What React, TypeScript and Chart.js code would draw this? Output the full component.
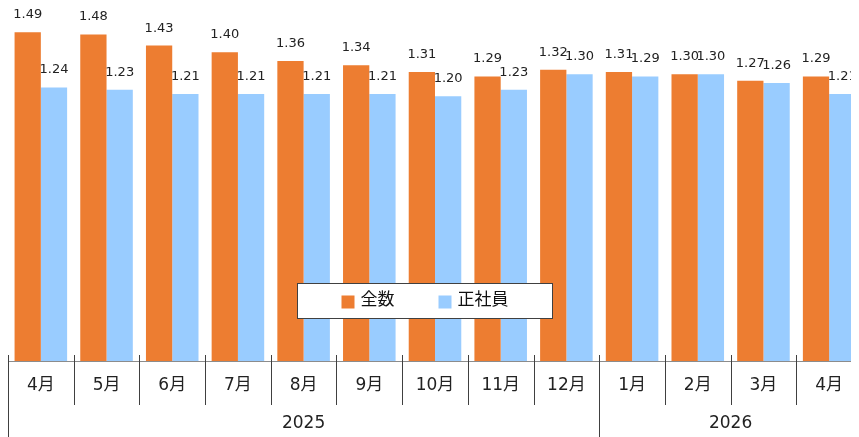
import React, { useEffect, useRef } from "react";
import { Chart, registerables } from "chart.js";

Chart.register(...registerables);

const months = ["4月", "5月", "6月", "7月", "8月", "9月", "10月", "11月", "12月", "1月", "2月", "3月", "4月"];
const yearLabels = ["2025", "2026"];
const yearSpans = [9, 4];
const seriesNames = ["全数", "正社員"];
const allValues = [1.49, 1.48, 1.43, 1.40, 1.36, 1.34, 1.31, 1.29, 1.32, 1.31, 1.30, 1.27, 1.29];
const regularValues = [1.24, 1.23, 1.21, 1.21, 1.21, 1.21, 1.20, 1.23, 1.30, 1.29, 1.30, 1.26, 1.21];
const colors = ["#ED7D31", "#99CCFF"];

const FONT = '"DejaVu Sans", "Noto Sans CJK JP", sans-serif';

const overlayPlugin = {
  id: "overlay",
  afterDatasetsDraw(chart: any) {
    const ctx = chart.ctx as CanvasRenderingContext2D;
    ctx.save();
    ctx.font = `13px ${FONT}`;
    ctx.fillStyle = "#222";
    ctx.textAlign = "center";
    ctx.textBaseline = "alphabetic";
    chart.data.datasets.forEach((ds: any, di: number) => {
      const meta = chart.getDatasetMeta(di);
      meta.data.forEach((bar: any, i: number) => {
        ctx.fillText(Number(ds.data[i]).toFixed(2), bar.x, bar.y - 14);
      });
    });
    ctx.restore();
  },
  afterDraw(chart: any) {
    const ctx = chart.ctx as CanvasRenderingContext2D;
    const x = chart.scales.x;
    const area = chart.chartArea;
    const n = months.length;
    const cw = (x.getPixelForValue(n - 1) - x.getPixelForValue(0)) / (n - 1);
    const edge = (i: number) => x.getPixelForValue(0) - cw / 2 + i * cw;
    const yearBounds = new Set<number>();
    let acc = 0;
    yearBounds.add(0);
    yearSpans.forEach((s) => {
      acc += s;
      yearBounds.add(acc);
    });
    ctx.save();
    ctx.strokeStyle = "#8c8c8c";
    ctx.lineWidth = 1;
    ctx.beginPath();
    ctx.moveTo(area.left, Math.round(area.bottom) + 0.5);
    ctx.lineTo(area.right, Math.round(area.bottom) + 0.5);
    ctx.stroke();
    ctx.strokeStyle = "#404040";
    for (let i = 0; i <= n; i++) {
      const px = Math.round(edge(i)) + 0.5;
      const bottom = yearBounds.has(i) ? chart.height : area.bottom + 44;
      ctx.beginPath();
      ctx.moveTo(px, area.bottom - 6);
      ctx.lineTo(px, bottom);
      ctx.stroke();
    }
    ctx.font = `17px ${FONT}`;
    ctx.fillStyle = "#222";
    ctx.textAlign = "center";
    ctx.textBaseline = "middle";
    let start = 0;
    yearLabels.forEach((yl, k) => {
      const end = start + yearSpans[k];
      ctx.fillText(yl, (edge(start) + edge(end)) / 2, area.bottom + 63);
      start = end;
    });
    const boxL = 289, boxT = 275, boxW = 256, boxH = 36;
    ctx.fillStyle = "#fff";
    ctx.fillRect(boxL, boxT, boxW, boxH);
    ctx.strokeStyle = "#404040";
    ctx.strokeRect(boxL + 0.5, boxT + 0.5, boxW - 1, boxH - 1);
    ctx.font = `17px ${FONT}`;
    ctx.textAlign = "left";
    ctx.textBaseline = "middle";
    const sq = 13, gap1 = 6, gap2 = 44;
    const widths = seriesNames.map((s) => ctx.measureText(s).width);
    const total = widths.reduce((a, w) => a + sq + gap1 + w, 0) + gap2 * (seriesNames.length - 1);
    let cx = boxL + (boxW - total) / 2;
    const cy = boxT + boxH / 2;
    seriesNames.forEach((s, k) => {
      ctx.fillStyle = colors[k];
      ctx.fillRect(cx, cy - sq / 2 + 1, sq, sq);
      cx += sq + gap1;
      ctx.fillStyle = "#111";
      ctx.fillText(s, cx, cy);
      cx += widths[k] + gap2;
    });
    ctx.restore();
  },
};

export default function App() {
  const ref = useRef<HTMLCanvasElement | null>(null);
  useEffect(() => {
    if (!ref.current) return;
    const chart = new Chart(ref.current, {
      type: "bar",
      data: {
        labels: months,
        datasets: [
          { label: seriesNames[0], data: allValues, backgroundColor: colors[0], categoryPercentage: 0.8, barPercentage: 1.0 },
          { label: seriesNames[1], data: regularValues, backgroundColor: colors[1], categoryPercentage: 0.8, barPercentage: 1.0 },
        ],
      },
      options: {
        animation: false,
        responsive: false,
        maintainAspectRatio: false,
        layout: { padding: 0 },
        plugins: { legend: { display: false }, tooltip: { enabled: false } },
        scales: {
          x: {
            grid: { display: false },
            border: { display: false },
            ticks: { font: { family: FONT, size: 17 }, color: "#222", padding: 6, maxRotation: 0, autoSkip: false },
            afterFit: (scale: any) => {
              scale.height = 76;
            },
          },
          y: { display: false, min: 0, max: 1.6 },
        },
      },
      plugins: [overlayPlugin],
    });
    return () => chart.destroy();
  }, []);
  return (
    <div style={{ width: 851, height: 429, overflow: "hidden" }}>
      <canvas ref={ref} width={854} height={429} style={{ display: "block", width: 854, height: 429 }} />
    </div>
  );
}
